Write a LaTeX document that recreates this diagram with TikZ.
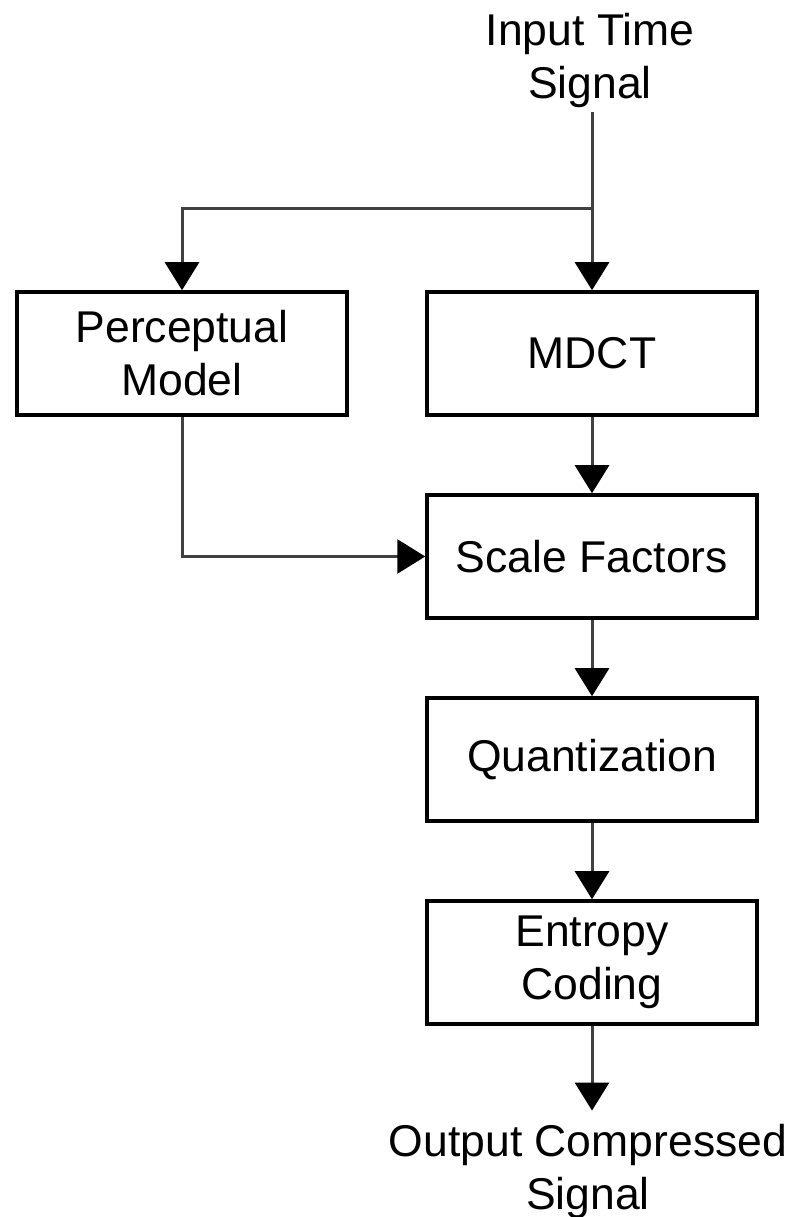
\documentclass[tikz,border=0pt]{standalone}
\usepackage{fontspec}
\setmainfont{Liberation Sans}
\usepackage{tikz}
\usetikzlibrary{arrows.meta,positioning,calc}
\tikzstyle{line} = [draw=black!75, line width=3pt, -{Triangle[width=34pt,length=28pt,color=black]}]
\tikzstyle{box} = [rectangle, draw=black, line width=3.5pt, align=center,
                   minimum width=330pt, minimum height=123pt, inner sep=0pt]
\tikzstyle{sig} = [align=center, inner sep=4pt]

\begin{document}
\begin{tikzpicture}[x=1pt, y=1pt,
                    font=\fontsize{44.5}{53}\selectfont,
                    node distance = 203pt]
      \useasboundingbox (0,0) rectangle (795,1217);
      \node [sig] at (590,1156) (input) {Input Time\\Signal};
      \node [box] at (592,863.5) (mdct) {MDCT};
      \node [box] at (182,863.5) (percep) {Perceptual\\Model};
      \node [box, below of=mdct] (scale) {Scale Factors};
      \node [box, below of=scale] (quant) {Quantization};
      \node [box, below of=quant] (entropy) {Entropy\\Coding};
      \node [sig, inner sep=0pt] at (588,1171-1125) (output) {Output Compressed\\Signal};
      \coordinate (split) at (592,1008);
      % connectors
      \path [line] (input.south -| mdct) -- (mdct.north);
      \path [line] (split) -| (percep.north);
      \path [line] (mdct) -- (scale);
      \path [line] (percep.south) |- (scale.west);
      \path [line] (scale) -- (quant);
      \path [line] (quant) -- (entropy);
      \path [line, shorten >=13pt] (entropy.south) -- (entropy.south |- output.north);
\end{tikzpicture}
\end{document}
